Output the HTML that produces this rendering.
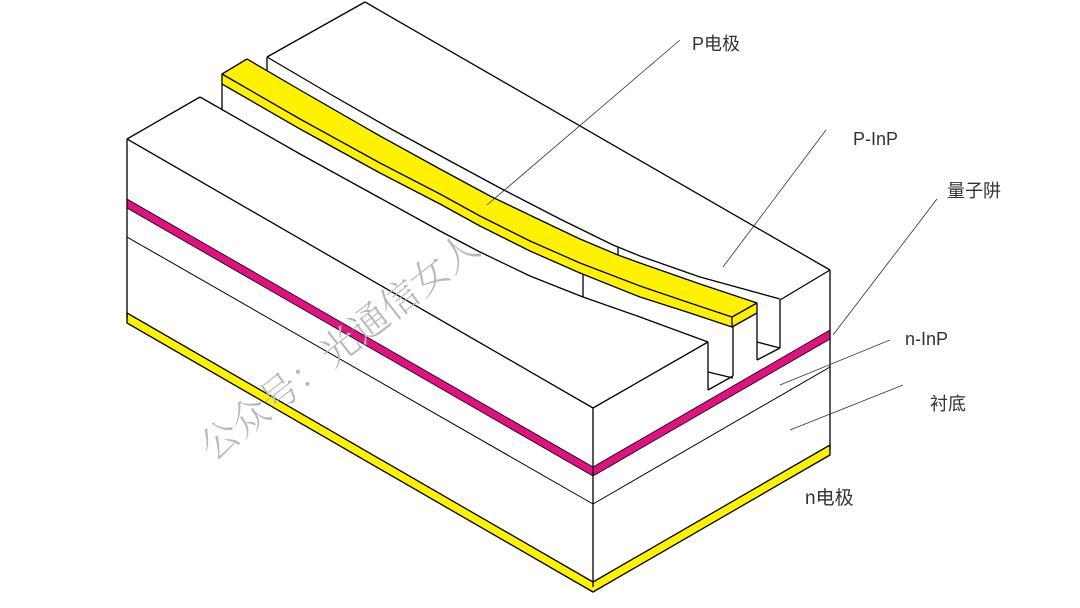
<!DOCTYPE html>
<html><head><meta charset="utf-8"><style>
html,body{margin:0;padding:0;background:#fff;}
svg{display:block;}
text{font-family:"Liberation Sans","Noto Sans CJK SC",sans-serif;fill:#333;}
</style></head><body>
<svg width="1080" height="608" viewBox="0 0 1080 608" xmlns="http://www.w3.org/2000/svg">
<g stroke="#000" stroke-width="1.3" fill="none" stroke-linejoin="round">
<polygon points="127,313 593,582 830,445 830,455 593,592 127,323" fill="#fff200"/>
<polygon points="127,199 593,467 830,330 830,339 593,476 127,208" fill="#e0127f" stroke-width="0.8"/>
<line x1="127" y1="139" x2="127" y2="318"/>
<line x1="127" y1="139" x2="593" y2="408"/>
<line x1="593" y1="408" x2="593" y2="587"/>
<line x1="830" y1="270" x2="830" y2="450"/>
<polyline points="127,237 593,504 830,367" stroke-width="1"/>
<line x1="127" y1="139" x2="200" y2="97"/>
<polyline points="200,97 300,154 380,198 440,231 480,252 530,276 583,297 640,317 708,342"/>
<line x1="593" y1="408" x2="708" y2="342"/>
<line x1="708" y1="342" x2="708" y2="390"/>
<line x1="708" y1="390" x2="733" y2="376"/>
<line x1="708" y1="372" x2="733" y2="378"/>
<line x1="733" y1="327" x2="733" y2="376"/>
<line x1="757" y1="313" x2="757" y2="360"/>
<line x1="757" y1="360" x2="780" y2="348"/>
<line x1="757" y1="342" x2="780" y2="348"/>
<line x1="780" y1="300" x2="780" y2="348"/>
<line x1="267" y1="57" x2="267" y2="75"/>
<line x1="267" y1="57" x2="365" y2="2"/>
<line x1="365" y1="2" x2="830" y2="270"/>
<line x1="830" y1="270" x2="780" y2="300"/>
<polyline points="267,57 330,94 393,130 450,161 500,188 560,219 613,245 640,256 700,277 780,299"/>
<line x1="222" y1="84" x2="222" y2="110"/>
<polygon points="247,59 300,90 380,136 440,169 490,196 540,220 580,239 618,255 640,263 700,284 757,303 757,313 732,327 690,313 640,297 580,273 530,251 480,226 440,204 380,173 300,129 222,84 222,74" fill="#fff200"/>
<polyline points="222,74 300,119 380,163 440,194 480,216 530,241 580,263 640,286 690,303 732,317 757,303"/>
<line x1="222" y1="74" x2="247" y2="59"/>
<line x1="732" y1="317" x2="732" y2="327"/>
<line x1="618" y1="247" x2="618" y2="255"/>
<line x1="583" y1="274" x2="583" y2="297"/>
</g>
<text x="0" y="0" transform="translate(213,462) rotate(-38)" font-size="38" style="fill:#b8b8b8;font-family:'Noto Serif CJK SC','Noto Sans CJK SC',serif;font-weight:300">公众号：光通信女人</text>
<g stroke="#333" stroke-width="0.8">
<line x1="680" y1="40" x2="487" y2="205"/>
<line x1="826" y1="130" x2="723" y2="267"/>
<line x1="937" y1="199" x2="833" y2="335"/>
<line x1="890" y1="340" x2="780" y2="385"/>
<line x1="903" y1="385" x2="790" y2="430"/>
</g>
<g font-size="18">
<text x="692" y="50">P电极</text>
<text x="853" y="145">P-InP</text>
<text x="947" y="197">量子阱</text>
<text x="905" y="345">n-InP</text>
<text x="930" y="410">衬底</text>
<text x="805" y="504" font-size="19">n电极</text>
</g>
</svg>
</body></html>
